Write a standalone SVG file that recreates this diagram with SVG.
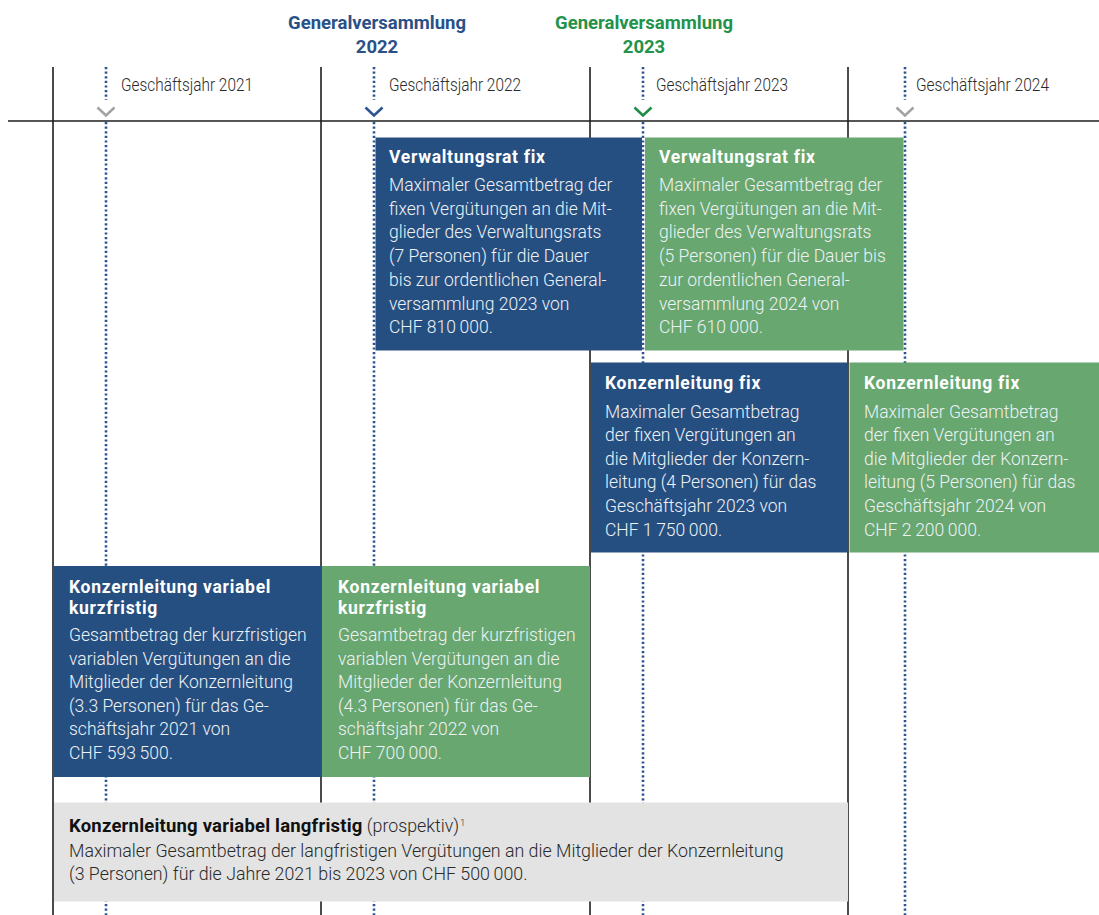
<svg xmlns="http://www.w3.org/2000/svg" width="1099" height="915" viewBox="0 0 1099 915">
  <style>
    .grid { stroke: #1e1e1e; stroke-width: 1.6; fill: none; }
    .dots { stroke: #2b5592; stroke-width: 2.6; stroke-dasharray: 2.2 2.4; fill: none; }
    .chev { fill: none; stroke-width: 2.6; stroke-linecap: butt; stroke-linejoin: miter; }
    .gv { font-family: Roboto, "Liberation Sans", sans-serif; font-weight: 700; font-size: 18.5px; text-anchor: middle; }
    .year { font-family: Roboto, "Liberation Sans", sans-serif; font-weight: 300; font-size: 17.5px; fill: #2a2a2a; }
    .blue { fill: #264f81; }
    .green { fill: #68a76f; }
    .grey { fill: #e3e3e3; }
    .ttl { font-family: Roboto, "Liberation Sans", sans-serif; font-weight: 700; font-size: 17.5px; fill: #ffffff; letter-spacing: 0.7px; }
    .txt { font-family: Roboto, "Liberation Sans", sans-serif; font-weight: 300; font-size: 17.5px; fill: #eef2f7; }
    .gttl { font-family: Roboto, "Liberation Sans", sans-serif; font-weight: 700; font-size: 18.5px; fill: #111111; letter-spacing: 0.2px; }
    .gtxt { font-family: Roboto, "Liberation Sans", sans-serif; font-weight: 300; font-size: 17.8px; fill: #2a2a2a; }
    .sup { font-family: Roboto, "Liberation Sans", sans-serif; font-weight: 300; font-size: 9.5px; fill: #2a2a2a; }
  </style>

  <!-- timeline grid -->
  <g id="timeline">
    <line class="grid" x1="8" y1="121" x2="1099" y2="121"/>
    <line class="grid" x1="53" y1="67" x2="53" y2="915"/>
    <line class="grid" x1="321" y1="67" x2="321" y2="915"/>
    <line class="grid" x1="590" y1="67" x2="590" y2="915"/>
    <line class="grid" x1="848" y1="67" x2="848" y2="915"/>
    <!-- dotted markers for the general assemblies -->
    <path class="dots" d="M106 67V100M106 122V915"/>
    <path class="dots" d="M374 67V100M374 122V915"/>
    <path class="dots" d="M643 67V100M643 122V915"/>
    <path class="dots" d="M905 67V100M905 122V915"/>
    <path class="chev" stroke="#a3a3a3" d="M97.5 107.5L106 115.5L114.5 107.5"/>
    <path class="chev" stroke="#2b5592" d="M365.5 107.5L374 115.5L382.5 107.5"/>
    <path class="chev" stroke="#1f8d45" d="M634.5 107.5L643 115.5L651.5 107.5"/>
    <path class="chev" stroke="#a3a3a3" d="M896.5 107.5L905 115.5L913.5 107.5"/>
  </g>

  <!-- headings -->
  <g id="gv-2022">
    <text class="gv" fill="#2a5088" x="377" y="29">Generalversammlung</text>
    <text class="gv" fill="#2a5088" x="377" y="53">2022</text>
  </g>
  <g id="gv-2023">
    <text class="gv" fill="#23924a" x="644" y="29">Generalversammlung</text>
    <text class="gv" fill="#23924a" x="644" y="53">2023</text>
  </g>
  <g id="years">
    <text class="year" x="121" y="91" textLength="132" lengthAdjust="spacingAndGlyphs">Geschäftsjahr 2021</text>
    <text class="year" x="389" y="91" textLength="132" lengthAdjust="spacingAndGlyphs">Geschäftsjahr 2022</text>
    <text class="year" x="656" y="91" textLength="132" lengthAdjust="spacingAndGlyphs">Geschäftsjahr 2023</text>
    <text class="year" x="916" y="91" textLength="133" lengthAdjust="spacingAndGlyphs">Geschäftsjahr 2024</text>
  </g>

  <!-- Verwaltungsrat fix 2022 -->
  <g id="vr-fix-2022">
    <rect class="blue" x="375.5" y="137.5" width="266.5" height="213"/>
    <text class="ttl" x="389" y="163">Verwaltungsrat fix</text>
    <text class="txt" x="389" y="191">
      <tspan x="389">Maximaler Gesamtbetrag der</tspan>
      <tspan x="389" dy="23.7">fixen Vergütungen an die Mit-</tspan>
      <tspan x="389" dy="23.7">glieder des Verwaltungsrats</tspan>
      <tspan x="389" dy="23.7">(7 Personen) für die Dauer</tspan>
      <tspan x="389" dy="23.7">bis zur ordentlichen General-</tspan>
      <tspan x="389" dy="23.7">versammlung 2023 von</tspan>
      <tspan x="389" dy="23.7">CHF 810&#8201;000.</tspan>
    </text>
  </g>

  <!-- Verwaltungsrat fix 2023 -->
  <g id="vr-fix-2023">
    <rect class="green" x="645" y="137.5" width="258.5" height="213"/>
    <text class="ttl" x="659" y="163">Verwaltungsrat fix</text>
    <text class="txt" x="659" y="191">
      <tspan x="659">Maximaler Gesamtbetrag der</tspan>
      <tspan x="659" dy="23.7">fixen Vergütungen an die Mit-</tspan>
      <tspan x="659" dy="23.7">glieder des Verwaltungsrats</tspan>
      <tspan x="659" dy="23.7">(5 Personen) für die Dauer bis</tspan>
      <tspan x="659" dy="23.7">zur ordentlichen General-</tspan>
      <tspan x="659" dy="23.7">versammlung 2024 von</tspan>
      <tspan x="659" dy="23.7">CHF 610&#8201;000.</tspan>
    </text>
  </g>

  <!-- Konzernleitung fix 2023 -->
  <g id="kl-fix-2023">
    <rect class="blue" x="591" y="362.5" width="257" height="190"/>
    <text class="ttl" x="605" y="389">Konzernleitung fix</text>
    <text class="txt" x="605" y="417.5">
      <tspan x="605">Maximaler Gesamtbetrag</tspan>
      <tspan x="605" dy="23.6">der fixen Vergütungen an</tspan>
      <tspan x="605" dy="23.6">die Mitglieder der Konzern-</tspan>
      <tspan x="605" dy="23.6">leitung (4 Personen) für das</tspan>
      <tspan x="605" dy="23.6">Geschäftsjahr 2023 von</tspan>
      <tspan x="605" dy="23.6">CHF 1&#8201;750&#8201;000.</tspan>
    </text>
  </g>

  <!-- Konzernleitung fix 2024 -->
  <g id="kl-fix-2024">
    <rect class="green" x="849.5" y="362.5" width="249.5" height="190"/>
    <text class="ttl" x="864" y="389">Konzernleitung fix</text>
    <text class="txt" x="864" y="417.5">
      <tspan x="864">Maximaler Gesamtbetrag</tspan>
      <tspan x="864" dy="23.6">der fixen Vergütungen an</tspan>
      <tspan x="864" dy="23.6">die Mitglieder der Konzern-</tspan>
      <tspan x="864" dy="23.6">leitung (5 Personen) für das</tspan>
      <tspan x="864" dy="23.6">Geschäftsjahr 2024 von</tspan>
      <tspan x="864" dy="23.6">CHF 2&#8201;200&#8201;000.</tspan>
    </text>
  </g>

  <!-- Konzernleitung variabel kurzfristig 2021 -->
  <g id="kl-var-2021">
    <rect class="blue" x="54" y="566" width="267" height="211"/>
    <text class="ttl" x="69" y="592.5">
      <tspan x="69">Konzernleitung variabel</tspan>
      <tspan x="69" dy="21">kurzfristig</tspan>
    </text>
    <text class="txt" x="69" y="641">
      <tspan x="69">Gesamtbetrag der kurzfristigen</tspan>
      <tspan x="69" dy="23.6">variablen Vergütungen an die</tspan>
      <tspan x="69" dy="23.6">Mitglieder der Konzernleitung</tspan>
      <tspan x="69" dy="23.6">(3.3 Personen) für das Ge-</tspan>
      <tspan x="69" dy="23.6">schäftsjahr 2021 von</tspan>
      <tspan x="69" dy="23.6">CHF 593&#8201;500.</tspan>
    </text>
  </g>

  <!-- Konzernleitung variabel kurzfristig 2022 -->
  <g id="kl-var-2022">
    <rect class="green" x="322" y="566" width="268" height="211"/>
    <text class="ttl" x="338" y="592.5">
      <tspan x="338">Konzernleitung variabel</tspan>
      <tspan x="338" dy="21">kurzfristig</tspan>
    </text>
    <text class="txt" x="338" y="641">
      <tspan x="338">Gesamtbetrag der kurzfristigen</tspan>
      <tspan x="338" dy="23.6">variablen Vergütungen an die</tspan>
      <tspan x="338" dy="23.6">Mitglieder der Konzernleitung</tspan>
      <tspan x="338" dy="23.6">(4.3 Personen) für das Ge-</tspan>
      <tspan x="338" dy="23.6">schäftsjahr 2022 von</tspan>
      <tspan x="338" dy="23.6">CHF 700&#8201;000.</tspan>
    </text>
  </g>

  <!-- Konzernleitung variabel langfristig -->
  <g id="kl-var-lang">
    <rect class="grey" x="54" y="802.5" width="794" height="99"/>
    <text x="69" y="831.5"><tspan class="gttl">Konzernleitung variabel langfristig</tspan><tspan class="gtxt"> (prospektiv)</tspan><tspan class="sup" dx="1" dy="-6">1</tspan></text>
    <text class="gtxt" x="69" y="856.5">
      <tspan x="69">Maximaler Gesamtbetrag der langfristigen Vergütungen an die Mitglieder der Konzernleitung</tspan>
      <tspan x="69" dy="23.5">(3 Personen) für die Jahre 2021 bis 2023 von CHF 500&#8201;000.</tspan>
    </text>
  </g>
</svg>
